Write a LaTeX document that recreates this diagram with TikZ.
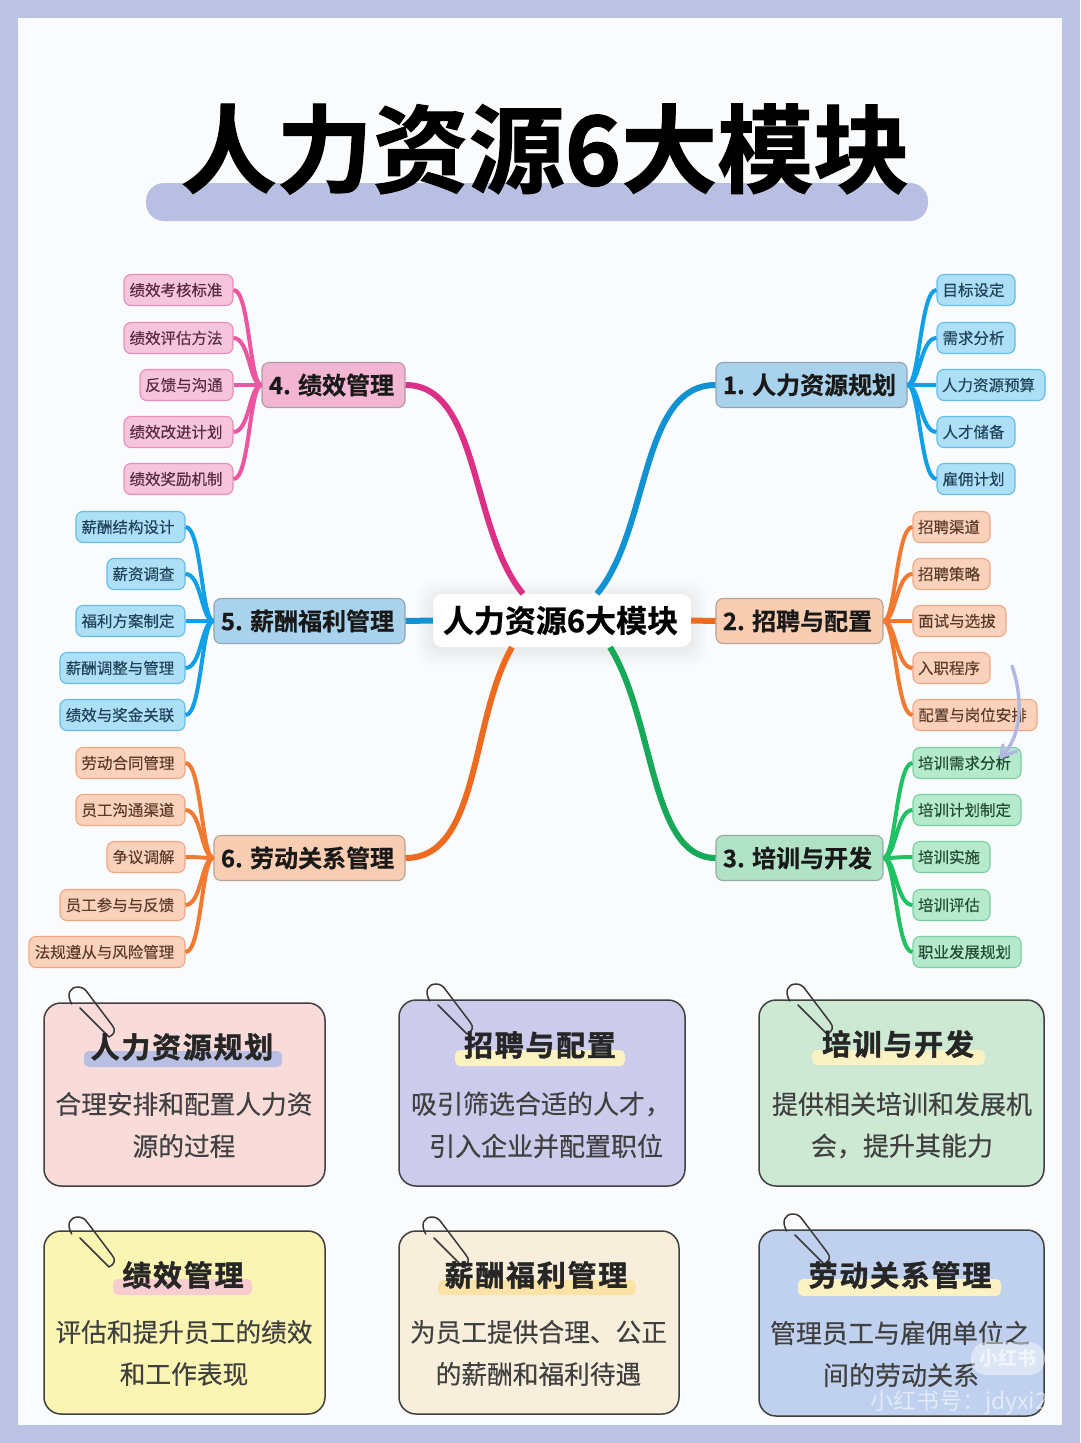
\documentclass[tikz,border=0pt]{standalone}
\usepackage{fontspec}
\setmainfont{Noto Sans CJK SC}
\newfontfamily\heavyf[FakeBold=1.2]{Noto Sans CJK SC Bold}
\newfontfamily\cardtf[LetterSpace=6,FakeBold=1.4]{Noto Sans CJK SC Bold}
\newfontfamily\nodef[FakeBold=0.6]{Noto Sans CJK SC Bold}
\newfontfamily\bodyf[FakeBold=0.35]{Noto Sans CJK SC}
\newfontfamily\smallf[FakeBold=0.15]{Noto Sans CJK SC}
\newcommand{\fsz}[1]{\fontsize{#1}{#1}\selectfont}
\definecolor{bgc}{HTML}{BCC3E3}
\definecolor{panelc}{HTML}{F9FBFD}
\definecolor{hlc}{HTML}{B9BFE3}
\definecolor{arrc}{HTML}{B2B6E2}
\definecolor{pinkm}{HTML}{DC2F86}\definecolor{pinks}{HTML}{EC559F}\definecolor{pinkf}{HTML}{F6C4DB}\definecolor{pinkp}{HTML}{F2B6D2}\definecolor{pinkb}{HTML}{E88DB9}\definecolor{pinkt}{HTML}{5A2A40}
\definecolor{bluem}{HTML}{1193D3}\definecolor{blues}{HTML}{11A0E8}\definecolor{bluef}{HTML}{ADDFF7}\definecolor{bluep}{HTML}{A9D3EC}\definecolor{blueb}{HTML}{62BDE8}\definecolor{bluet}{HTML}{1F4258}
\definecolor{orgm}{HTML}{EE6A1E}\definecolor{orgs}{HTML}{F27A30}\definecolor{orgf}{HTML}{FAD2BC}\definecolor{orgp}{HTML}{F8CDB2}\definecolor{orgb}{HTML}{EFA783}\definecolor{orgt}{HTML}{5A3A28}
\definecolor{grnm}{HTML}{16A959}\definecolor{grns}{HTML}{20C163}\definecolor{grnf}{HTML}{B6EACC}\definecolor{grnp}{HTML}{B0E2C6}\definecolor{grnb}{HTML}{78CFA0}\definecolor{grnt}{HTML}{234A35}
\definecolor{ka}{HTML}{F9DCDA}\definecolor{kb}{HTML}{CDCBEC}\definecolor{kc}{HTML}{CDE8D3}\definecolor{kd}{HTML}{FBF5B4}\definecolor{ke}{HTML}{F8EEDC}\definecolor{kf}{HTML}{BFD1EE}
\definecolor{hly}{HTML}{FBF2C4}\definecolor{hlp}{HTML}{F8CDD0}\definecolor{hlo}{HTML}{FBE3A8}
\tikzset{
  x=1pt,y=-1pt,
  subbox/.style={rounded corners=7pt,line width=1.1pt,inner sep=0pt,minimum height=31pt,font=\smallf\fsz{15.5}},
  parbox/.style={rounded corners=7pt,line width=1.1pt,inner sep=0pt,minimum height=45pt,text=black!90,font=\nodef\fsz{24}},
  pinkset/.style={fill=pinkf,draw=pinkb,text=pinkt},
  blueset/.style={fill=bluef,draw=blueb,text=bluet},
  orgset/.style={fill=orgf,draw=orgb,text=orgt},
  grnset/.style={fill=grnf,draw=grnb,text=grnt},
  mainline/.style={line width=6pt},
  subline/.style={line width=4pt},
  cardbox/.style={rounded corners=17pt,draw=black!75,line width=1.5pt,inner sep=0pt},
  cardtitle/.style={inner sep=0pt,text=black!85,font=\cardtf\fsz{29}},
  cardbody/.style={inner sep=0pt,text=black!75,font=\bodyf\fsz{25.7}},
  cardwide/.style={inner sep=0pt,text=black!75,font=\bodyf\fsz{26}},
  clipline/.style={draw=black!78,line width=1.5pt,line cap=round,line join=round},
}
\newcommand{\subn}[6]{\node[subbox,#1,minimum width={(#4-#3)*1pt}] (#2) at ({(#3+#4)/2},#5) {\raisebox{-1pt}{#6\hspace{5pt}}};}
\newcommand{\parn}[6]{\node[parbox,fill=#1,draw=#1!60!black!70,minimum width={(#4-#3)*1pt}] (#2) at ({(#3+#4)/2},#5) {\mbox{#6\hspace{4pt}}};}
\newcommand{\cardn}[6]{\node[cardbox,fill=#2,minimum width={(#4-#3)*1pt},minimum height={(#6-#5)*1pt}] (#1) at ({(#3+#4)/2},{(#5+#6)/2}) {};}
\newcommand{\clipshape}[2]{\draw[clipline,shift={(#1,#2)}] (71.7,1004) .. controls (66,994) and (70,987) .. (78,987) .. controls (82,987) and (85,989) .. (87,992) -- (112,1025) .. controls (116,1030) and (115,1034) .. (109,1037) -- (80,1008);}
\newcommand{\hlbar}[5]{\fill[#1,rounded corners=5pt] (#2,#4) rectangle (#3,#5);}
\begin{document}
\begin{tikzpicture}
\useasboundingbox (0,0) rectangle (1080,1443);
\fill[bgc] (0,0) rectangle (1080,1443);
\fill[panelc] (18,18) rectangle (1062,1425);
% title
\fill[hlc,rounded corners=18pt] (146,183) rectangle (928,221);
\node[inner sep=0pt,text=black] (title) at (545,149) {\heavyf\fsz{96}人力资源6大模块};
% centre
\foreach \g in {16,14,12,10,8,6,4,2}{
  \fill[black,opacity=.007,rounded corners=14pt] (433-\g,594-\g+3) rectangle (691+\g,647+\g+3);
}
\node[fill=white,rounded corners=10pt,inner sep=0pt,minimum width=258pt,minimum height=53pt,text=black,font=\nodef\fsz{31}] (ctr) at (562,620.5) {\mbox{人力资源6大模块\hspace{3pt}}};
% parents
\parn{bluep}{p1}{716}{907}{385}{1. 人力资源规划}
\parn{orgp}{p2}{716}{883}{621}{2. 招聘与配置}
\parn{grnp}{p3}{716}{883}{858}{3. 培训与开发}
\parn{pinkp}{p4}{262}{405}{385}{4. 绩效管理}
\parn{bluep}{p5}{214}{405}{621}{5. 薪酬福利管理}
\parn{orgp}{p6}{214}{405}{858}{6. 劳动关系管理}
% children 1
\subn{blueset}{s11}{937}{1015}{290}{目标设定}
\subn{blueset}{s12}{937}{1015}{338}{需求分析}
\subn{blueset}{s13}{937}{1045}{385}{人力资源预算}
\subn{blueset}{s14}{937}{1015}{432}{人才储备}
\subn{blueset}{s15}{937}{1015}{479}{雇佣计划}
% children 2
\subn{orgset}{s21}{913}{990}{527}{招聘渠道}
\subn{orgset}{s22}{913}{990}{574}{招聘策略}
\subn{orgset}{s23}{913}{1006}{621}{面试与选拔}
\subn{orgset}{s24}{913}{990}{668}{入职程序}
\subn{orgset}{s25}{913}{1037}{715}{配置与岗位安排}
% children 3
\subn{grnset}{s31}{913}{1021}{763}{培训需求分析}
\subn{grnset}{s32}{913}{1021}{810}{培训计划制定}
\subn{grnset}{s33}{913}{990}{857}{培训实施}
\subn{grnset}{s34}{913}{990}{905}{培训评估}
\subn{grnset}{s35}{913}{1021}{952}{职业发展规划}
% children 4
\subn{pinkset}{s41}{124}{233}{290}{绩效考核标准}
\subn{pinkset}{s42}{124}{233}{338}{绩效评估方法}
\subn{pinkset}{s43}{140}{233}{385}{反馈与沟通}
\subn{pinkset}{s44}{124}{233}{432}{绩效改进计划}
\subn{pinkset}{s45}{124}{233}{479}{绩效奖励机制}
% children 5
\subn{blueset}{s51}{76}{185}{527}{薪酬结构设计}
\subn{blueset}{s52}{107}{185}{574}{薪资调查}
\subn{blueset}{s53}{76}{185}{621}{福利方案制定}
\subn{blueset}{s54}{60}{185}{668}{薪酬调整与管理}
\subn{blueset}{s55}{60}{185}{715}{绩效与奖金关联}
% children 6
\subn{orgset}{s61}{76}{185}{763}{劳动合同管理}
\subn{orgset}{s62}{76}{185}{810}{员工沟通渠道}
\subn{orgset}{s63}{107}{185}{857}{争议调解}
\subn{orgset}{s64}{60}{185}{905}{员工参与与反馈}
\subn{orgset}{s65}{29}{185}{952}{法规遵从与风险管理}
% main connectors
\coordinate (c1) at ([xshift=35pt]ctr.north);
\coordinate (c4) at ([xshift=-39pt]ctr.north);
\coordinate (c3) at ([xshift=48pt]ctr.south);
\coordinate (c6) at ([xshift=-50pt]ctr.south);
\draw[mainline,bluem] (c1) .. controls (650,530) and (640,385) .. (p1.west);
\draw[mainline,pinkm] (c4) .. controls (470,530) and (480,385) .. (p4.east);
\draw[mainline,grnm] (c3) .. controls (655,720) and (650,858) .. (p3.west);
\draw[mainline,orgm] (c6) .. controls (470,720) and (480,858) .. (p6.east);
\draw[mainline,orgm] (ctr.east) -- (p2.west);
\draw[mainline,bluem] (p5.east) -- (ctr.west);
% sub connectors
\foreach \i in {1,...,5}{
  \draw[subline,blues] (p1.east) .. controls +(12,0) and +(-16,0) .. (s1\i.west);
  \draw[subline,orgs] (p2.east) .. controls +(12,0) and +(-16,0) .. (s2\i.west);
  \draw[subline,grns] (p3.east) .. controls +(12,0) and +(-16,0) .. (s3\i.west);
  \draw[subline,pinks] (p4.west) .. controls +(-12,0) and +(16,0) .. (s4\i.east);
  \draw[subline,blues] (p5.west) .. controls +(-12,0) and +(16,0) .. (s5\i.east);
  \draw[subline,orgs] (p6.west) .. controls +(-12,0) and +(16,0) .. (s6\i.east);
}
% purple hand arrow
\draw[arrc,line width=3.4pt,line cap=round,line join=round] (1012,666) .. controls (1022,695) and (1024,735) .. (1001,757);
\draw[arrc,line width=3.4pt,line cap=round,line join=round] (1017,751) -- (1001,757) -- (1003,745);
% cards
\cardn{k1}{ka}{44}{325}{1003}{1186}
\cardn{k2}{kb}{399}{685}{1000}{1186}
\cardn{k3}{kc}{759}{1044}{1000}{1186}
\cardn{k4}{kd}{44}{325}{1231}{1414}
\cardn{k5}{ke}{399}{679}{1231}{1414}
\cardn{k6}{kf}{759}{1044}{1230}{1416}
\clipshape{0}{0}
\clipshape{358}{-3}
\clipshape{718}{-3}
\clipshape{0}{230}
\clipshape{354}{230}
\clipshape{715}{227}
\hlbar{hlc}{84}{282}{1051}{1067}
\hlbar{hly}{455}{625}{1050}{1066}
\hlbar{hly}{812}{985}{1050}{1065}
\hlbar{hlp}{113}{252}{1279}{1295}
\hlbar{hlo}{438}{636}{1280}{1295}
\hlbar{hly}{798}{1001}{1279}{1296}
\node[cardtitle] (t1) at (182,1047) {人力资源规划};
\node[cardtitle] (t2) at (540,1045) {招聘与配置};
\node[cardtitle] (t3) at (898,1044) {培训与开发};
\node[cardtitle] (t4) at (183,1275) {绩效管理};
\node[cardtitle] (t5) at (536,1275) {薪酬福利管理};
\node[cardtitle] (t6) at (900,1275) {劳动关系管理};
\node[cardbody] (b11) at (184,1104) {合理安排和配置人力资};
\node[cardbody] (b12) at (184,1146) {源的过程};
\node[cardwide] (b21) at (541,1104) {吸引筛选合适的人才，};
\node[cardwide] (b22) at (546,1146) {引入企业并配置职位};
\node[cardwide] (b31) at (902,1104) {提供相关培训和发展机};
\node[cardwide] (b32) at (902,1146) {会，提升其能力};
\node[cardbody] (b41) at (184,1332) {评估和提升员工的绩效};
\node[cardbody] (b42) at (184,1374) {和工作表现};
\node[cardbody] (b51) at (538.5,1332) {为员工提供合理、公正};
\node[cardbody] (b52) at (538.5,1374) {的薪酬和福利待遇};
\node[cardwide] (b61) at (900,1333) {管理员工与雇佣单位之};
\node[cardwide] (b62) at (901,1375) {间的劳动关系};
% watermark
\fill[white,opacity=.45,rounded corners=16pt] (971,1342) rectangle (1045,1375);
\node[inner sep=0pt,text=white,opacity=.6,font=\bfseries\fsz{19}] (w1) at (1008,1358) {小红书};
\node[inner sep=0pt,text=white,opacity=.55,font=\fsz{23}] (w2) at (959,1403) {小红书号：jdyxi2};
\end{tikzpicture}
\end{document}
